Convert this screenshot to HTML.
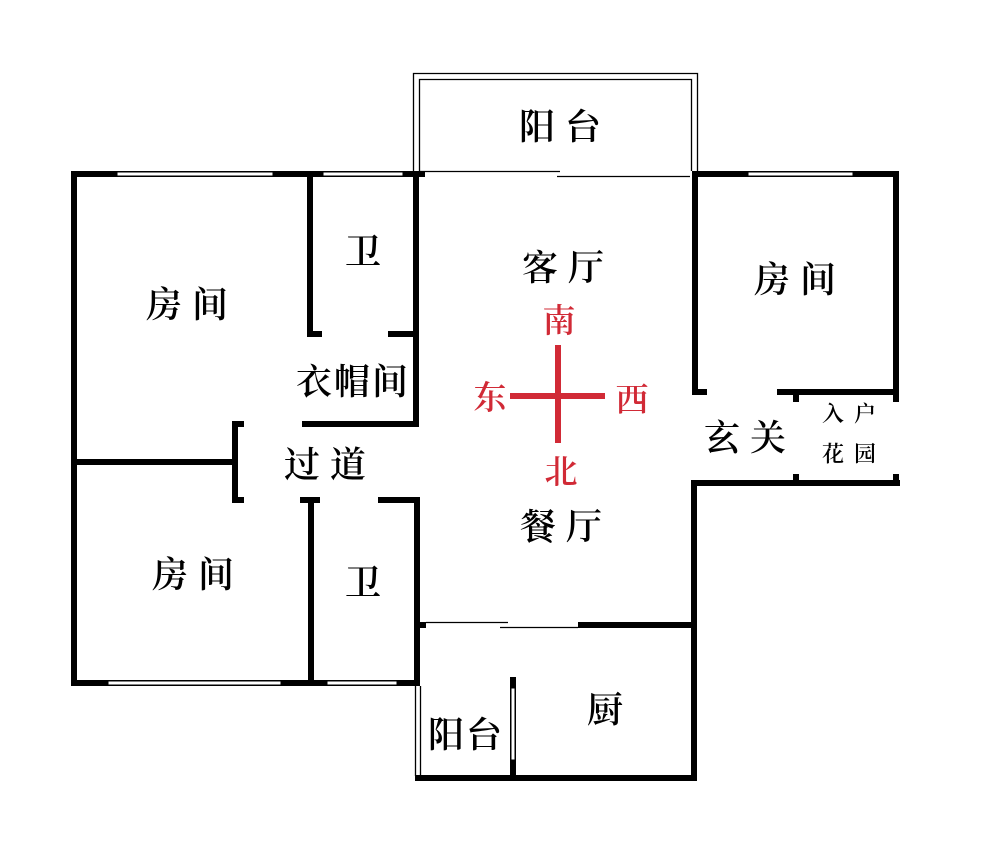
<!DOCTYPE html>
<html><head><meta charset="utf-8"><style>
body{margin:0;background:#fff}
svg text{font-family:"Liberation Serif","Noto Serif CJK SC",serif;font-weight:600;text-anchor:middle;dominant-baseline:central}
.s{letter-spacing:10px}
.s3{letter-spacing:2px}
</style></head><body>
<svg width="1000" height="856" viewBox="0 0 1000 856" xmlns="http://www.w3.org/2000/svg">
<rect width="1000" height="856" fill="#fff"/>
<g fill="#000">
<rect x="71" y="171" width="354" height="6"/>
<rect x="71" y="171" width="6" height="515"/>
<rect x="71" y="680" width="349" height="6"/>
<rect x="307" y="171" width="6" height="166"/>
<rect x="307" y="331" width="15" height="6"/>
<rect x="388" y="331" width="31" height="6"/>
<rect x="413" y="171" width="6" height="256"/>
<rect x="302" y="421" width="117" height="6"/>
<rect x="232" y="421" width="6" height="82"/>
<rect x="232" y="421" width="12" height="6"/>
<rect x="232" y="497" width="12" height="6"/>
<rect x="71" y="459" width="167" height="6"/>
<rect x="308" y="497" width="6" height="189"/>
<rect x="300" y="497" width="20" height="6"/>
<rect x="378" y="497" width="42" height="6"/>
<rect x="414" y="497" width="6" height="189"/>
<rect x="692" y="171" width="207" height="6"/>
<rect x="692" y="171" width="6" height="224"/>
<rect x="692" y="389" width="15" height="6"/>
<rect x="777" y="389" width="122" height="6"/>
<rect x="893" y="171" width="6" height="231"/>
<rect x="793" y="389" width="6" height="13"/>
<rect x="692" y="480" width="208" height="6"/>
<rect x="793" y="474" width="6" height="8"/>
<rect x="893" y="474" width="6" height="12"/>
<rect x="691" y="480" width="6" height="301"/>
<rect x="415" y="622" width="11" height="6"/>
<rect x="578" y="622" width="118" height="6"/>
<rect x="415" y="775" width="282" height="6"/>
<rect x="510" y="677" width="6" height="104"/>
<rect x="413" y="171" width="12" height="6"/>
</g>
<g fill="#fff" stroke="#000" stroke-width="1">
<rect x="117" y="172" width="156" height="4"/>
<rect x="323" y="172" width="80" height="4"/>
<rect x="748" y="172" width="105" height="4"/>
<rect x="108" y="681" width="173" height="4"/>
<rect x="327" y="681" width="70" height="4"/>
<rect x="511" y="688" width="4" height="72"/>
</g>
<g stroke="#000" stroke-width="1.3" fill="none">
<path d="M413.5 171 V73.5 H697.5 V171"/>
<path d="M419.5 171 V79.5 H691.5 V171"/>
<path d="M419 171.5 H560"/>
<path d="M557 176.5 H690"/>
<path d="M426 622.5 H508"/>
<path d="M500 627.5 H578"/>
<path d="M415.5 686 V776"/>
<path d="M420.5 686 V776"/>
</g>
<g fill="#d12a36">
<rect x="555" y="345" width="6" height="98"/>
<rect x="510" y="393" width="95" height="6"/>
</g>
<g fill="#d12a36" font-size="33">
<text x="559" y="322">南</text>
<text x="490" y="399">东</text>
<text x="632" y="401">西</text>
<text x="561" y="473">北</text>
</g>
<g fill="#000" font-size="36">
<text class="s" x="565" y="127">阳台</text>
<text class="s" x="568" y="268">客厅</text>
<text class="s" x="800" y="280">房间</text>
<text class="s" x="750" y="438">玄关</text>
<text x="363" y="252">卫</text>
<text class="s" x="192" y="305">房间</text>
<text class="s3" x="353" y="382">衣帽间</text>
<text class="s" x="330" y="465">过道</text>
<text class="s" x="198" y="575">房间</text>
<text x="363" y="583">卫</text>
<text class="s" x="566" y="527">餐厅</text>
<text class="s3" x="466" y="735">阳台</text>
<text x="605" y="710">厨</text>
</g>
<g fill="#000" font-size="22">
<text class="s" x="854" y="414">入户</text>
<text class="s" x="854" y="454">花园</text>
</g>
</svg>
</body></html>
